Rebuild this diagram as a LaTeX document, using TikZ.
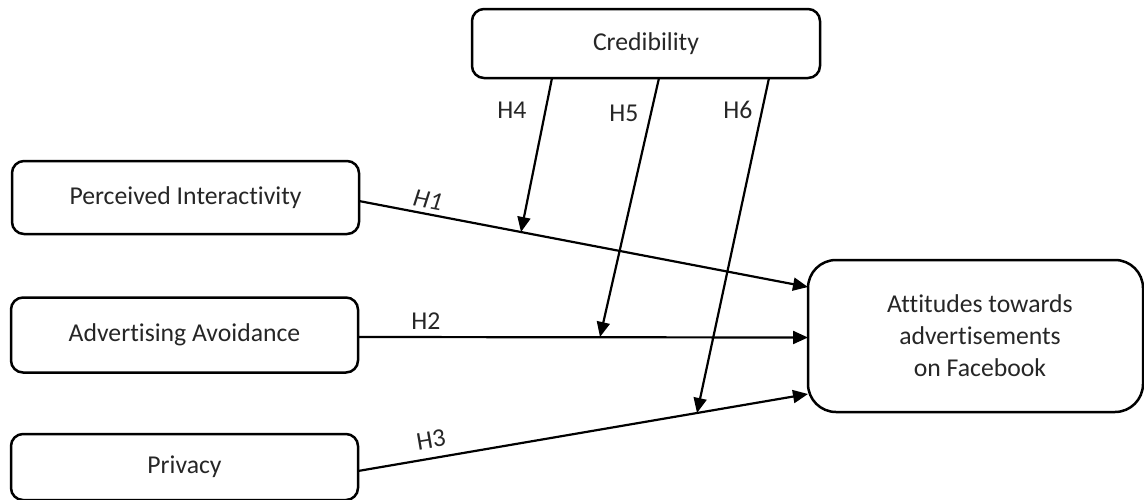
\documentclass[tikz,border=0pt]{standalone}
\usepackage{fontspec}
\setmainfont{Carlito}[Ligatures=NoCommon]
\usetikzlibrary{arrows.meta}
\begin{document}
\begin{tikzpicture}[x=1pt,y=-1pt,
  box/.style={draw, line width=2.5pt, rounded corners=12pt, inner sep=0pt, outer sep=0pt,
    font=\fontsize{25.7}{32}\selectfont, text=black!85, align=center},
  conn/.style={line width=2.2pt, -{Triangle[length=15pt,width=13pt]}},
  lab/.style={font=\fontsize{25.7}{32}\selectfont, text=black!85, inner sep=0pt}]
\useasboundingbox (0,0) rectangle (1144,499);
\node[box, minimum width=347pt, minimum height=73pt] (pi) at (185.5,197.5) {Perceived Interactivity};
\node[box, minimum width=347pt, minimum height=75pt] (aa) at (184.5,335) {Advertising Avoidance};
\node[box, minimum width=347pt, minimum height=66pt] (pr) at (184.5,467) {\raisebox{-3pt}{Privacy}};
\node[box, minimum width=348pt, minimum height=69pt] (cred) at (646,43.5) {Credibility};
\node[box, minimum width=335pt, minimum height=152pt, rounded corners=28pt] (att) at (975.5,336)
  {\hspace*{9pt}Attitudes towards\\\hspace*{9pt}advertisements\\\hspace*{9pt}on Facebook};
\draw[conn] ([yshift=-3.5pt]pi.east) -- ([yshift=49pt]att.west);
\draw[conn] ([yshift=-2pt]aa.east) -- ([yshift=-1.5pt]att.west);
\draw[conn] ([yshift=-4pt]pr.east) -- ([yshift=-58pt]att.west);
\coordinate (m1) at (521,232);
\coordinate (m2) at (600,337);
\coordinate (m3) at (697,413);
\draw[conn] ([xshift=-94pt]cred.south) -- (m1);
\draw[conn] ([xshift=13pt]cred.south) -- (m2);
\draw[conn] ([xshift=123pt]cred.south) -- (m3);
\node[lab, rotate=-10.8] (l1) at (428,200) {\textit{H1}};
\node[lab] (l2) at (426,321) {H2};
\node[lab, rotate=9.7] (l3) at (431,440) {H3};
\node[lab] (l4) at (512,110) {H4};
\node[lab] (l5) at (624,113) {H5};
\node[lab] (l6) at (738,110) {H6};
\end{tikzpicture}
\end{document}
